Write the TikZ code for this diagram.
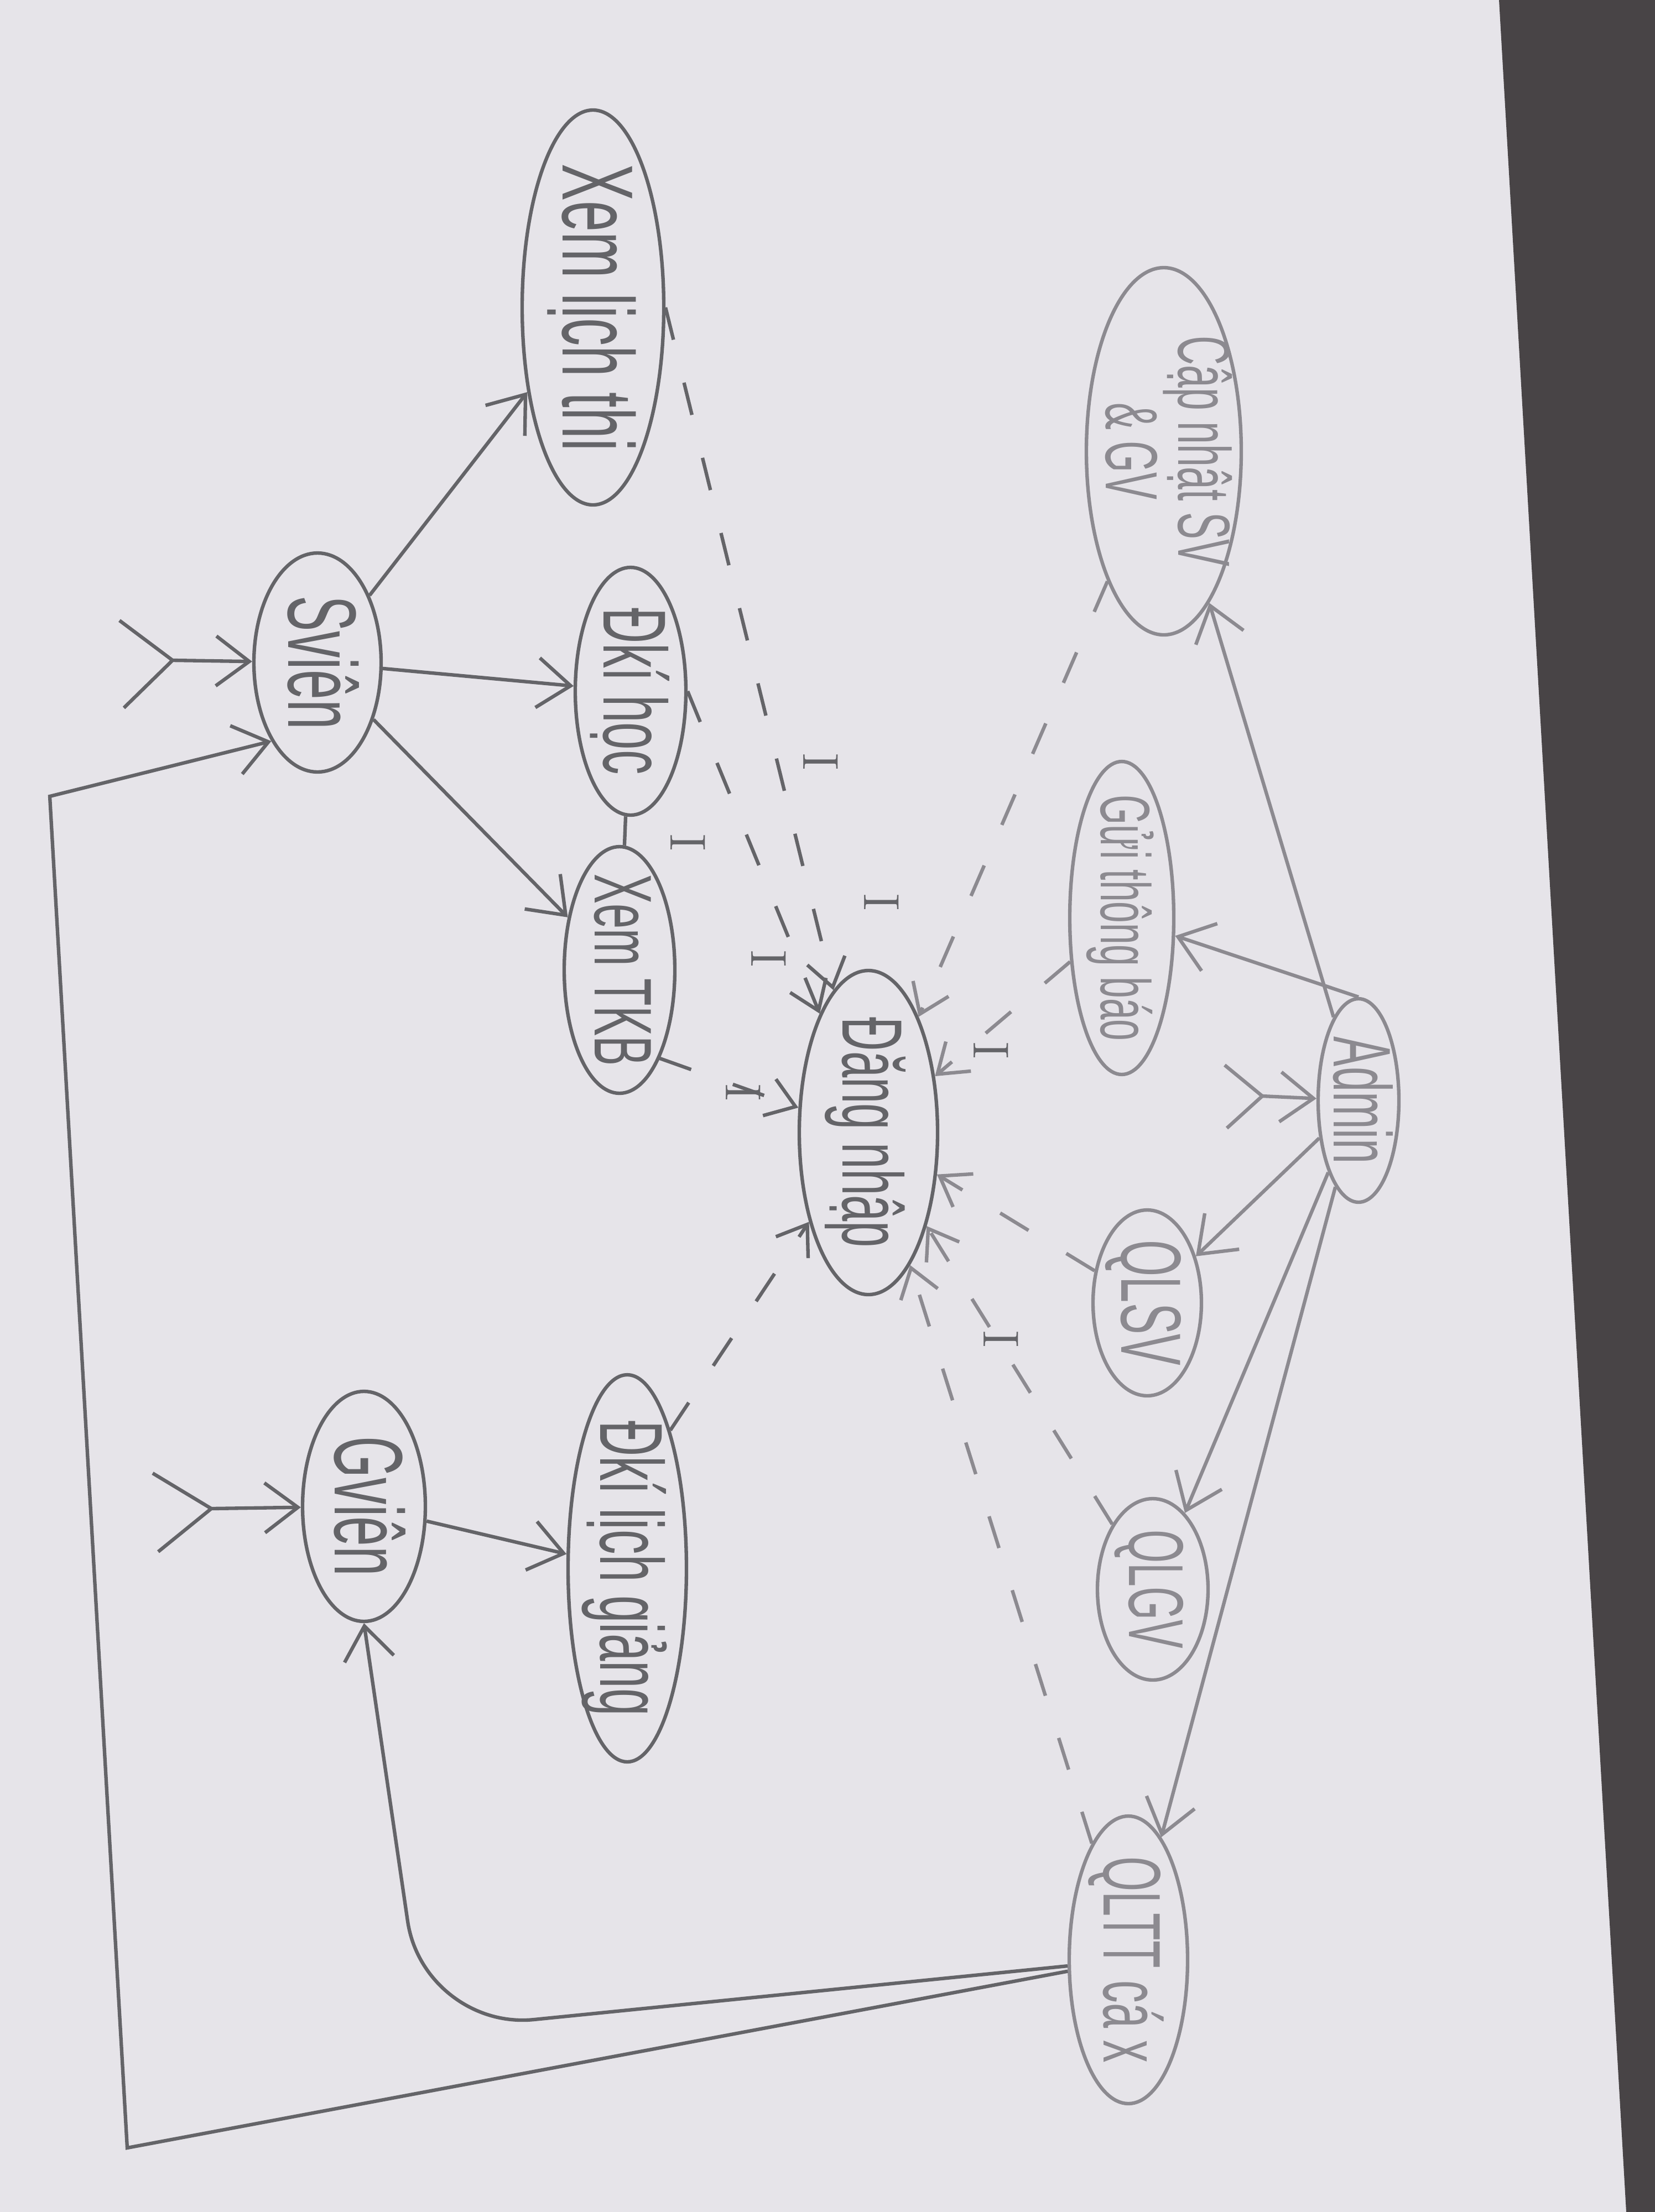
\documentclass[tikz,border=0pt]{standalone}
\usepackage{fontspec}
\newfontfamily\hand[FakeStretch=0.55]{Liberation Sans}
\usetikzlibrary{shapes.geometric,arrows.meta}

\definecolor{paper}{RGB}{230,228,233}
\definecolor{desk}{RGB}{72,68,70}
\definecolor{pencil}{RGB}{100,100,104}
\definecolor{pencilL}{RGB}{140,138,144}

\newcommand{\hw}[1]{\makebox[0pt]{\raisebox{-0.3em}{#1}}}

\tikzset{
    fs/.style={font=\hand\fontsize{#1}{#1}\selectfont},
    uc/.style={ellipse, draw=pencil, text=pencil, line width=0.9pt, inner sep=0pt,
        text height=0pt, text depth=0pt, rotate=-90, fs=22},
    light/.style={draw=pencilL, text=pencilL},
    assoc/.style={draw=pencil, line width=0.9pt, -{Straight Barb[length=3mm,width=4.5mm]}},
    inc/.style={draw=pencil, line width=0.9pt, dash pattern=on 3mm off 4mm,
        -{Straight Barb[length=2.5mm,width=3.5mm]}},
    lbl/.style={rotate=-90, text=pencil, font=\fontsize{13}{13}\selectfont, inner sep=1pt},
}

\begin{document}
\begin{tikzpicture}
    \useasboundingbox (0,0) rectangle (14.96,-20);
    \fill[paper] (0,0) rectangle (14.96,-20);
    \fill[desk] (13.55,0) -- (14.96,0) -- (14.96,-20) -- (14.7,-20) -- cycle;

    % use cases (page is turned: text runs downwards)
    \node[uc, minimum width=3.57cm, minimum height=1.28cm, fs=26] (lichthi) at (5.36,-2.78) {\hw{Xem lịch thi}};
    \node[uc, minimum width=1.98cm, minimum height=1.15cm, fs=25] (sv) at (2.87,-5.99) {\hw{Sviên}};
    \node[uc, minimum width=2.24cm, minimum height=1.0cm, fs=23] (dkhoc) at (5.70,-6.25) {\hw{Đkí học}};
    \node[uc, minimum width=2.23cm, minimum height=1.0cm, fs=21] (tkb) at (5.60,-8.77) {\hw{Xem TKB}};
    \node[uc, minimum width=2.93cm, minimum height=1.25cm] (dn) at (7.85,-10.24) {\hw{Đăng nhập}};
    \node[uc, minimum width=2.08cm, minimum height=1.11cm, fs=25] (gv) at (3.29,-13.62) {\hw{Gviên}};
    \node[uc, minimum width=3.5cm, minimum height=1.07cm, fs=23] (dklg) at (5.67,-14.18) {\hw{Đkí lịch giảng}};

    \node[uc, light, minimum width=3.32cm, minimum height=1.4cm,
        font=\hand\fontsize{19}{18}\selectfont] (capnhat) at (10.52,-4.08)
        {\hw{\begin{tabular}{@{}c@{}}Cập nhật SV\\\& GV\end{tabular}}};
    \node[uc, light, minimum width=2.83cm, minimum height=0.94cm, fs=18] (thongbao) at (10.14,-8.30) {\hw{Gửi thông báo}};
    \node[uc, light, minimum width=1.84cm, minimum height=0.73cm, fs=21] (admin) at (12.28,-9.95) {\hw{Admin}};
    \node[uc, light, minimum width=1.68cm, minimum height=0.98cm] (qlsv) at (10.37,-11.78) {\hw{QLSV}};
    \node[uc, light, minimum width=1.64cm, minimum height=1.0cm, fs=20] (qlgv) at (10.42,-14.37) {\hw{QLGV}};
    \node[uc, light, minimum width=2.6cm, minimum height=1.07cm, fs=21] (qltt) at (10.20,-17.72) {\hw{QLTT cá x}};

    % actors
    \coordinate (svfork) at (1.56,-5.97);
    \coordinate (gvfork) at (1.91,-13.64);
    \coordinate (adfork) at (11.41,-9.91);
    \draw[pencil, line width=0.9pt] (svfork) -- ++(-0.48,0.36) (svfork) -- ++(-0.44,-0.43);
    \draw[pencil, line width=0.9pt] (gvfork) -- ++(-0.53,0.32) (gvfork) -- ++(-0.48,-0.39);
    \draw[pencilL, line width=0.9pt] (adfork) -- ++(-0.34,0.28) (adfork) -- ++(-0.32,-0.29);
    \draw[assoc] (svfork) -- (sv);
    \draw[assoc] (gvfork) -- (gv);
    \draw[assoc, light] (adfork) -- (admin);

    \draw[assoc] (sv) -- (lichthi);
    \draw[assoc] (sv) -- (dkhoc);
    \draw[assoc] (sv) -- (tkb);
    \draw[assoc] (gv) -- (dklg);

    \draw[assoc, light] (admin) -- (capnhat);
    \draw[assoc, light] (admin.west) -- (thongbao);
    \draw[assoc, light] (admin) -- (qlsv);
    \draw[assoc, light] (admin) -- (qlgv);
    \draw[assoc, light] (admin) -- (qltt);

    % QLTT back to both actors
    \coordinate (gvbend) at (3.83,-18.36);
    \coordinate (svbend1) at (1.15,-19.42);
    \coordinate (svbend2) at (0.45,-7.2);
    \draw[assoc, rounded corners=1cm] (qltt) -- (gvbend) -- (gv.east);
    \draw[assoc] (qltt) -- (svbend1) -- (svbend2) -- (sv.south east);

    % include
    \draw[inc] (lichthi.north) -- (dn);
    \draw[inc] (dkhoc.north) -- (dn);
    \draw[inc, -] (dkhoc) -- (tkb);
    \draw[inc] (tkb.north east) -- (dn);
    \draw[inc] (dklg.north west) -- (dn);
    \draw[inc, light] (capnhat) -- (dn);
    \draw[inc, light] (thongbao) -- (dn);
    \draw[inc, light] (qlsv) -- (dn);
    \draw[inc, light] (qlgv) -- (dn);
    \draw[inc, light] (qltt) -- (dn);

    \node[lbl] (i1) at (7.42,-6.89) {I};
    \node[lbl] (i2) at (6.95,-8.67) {I};
    \node[lbl] (i3) at (7.97,-8.16) {I};
    \node[lbl] (i4) at (6.22,-7.62) {I};
    \node[lbl] (i5) at (6.72,-9.88) {I};
    \node[lbl] (i6) at (8.96,-9.50) {I};
    \node[lbl] (i7) at (9.05,-12.11) {I};
\end{tikzpicture}
\end{document}
